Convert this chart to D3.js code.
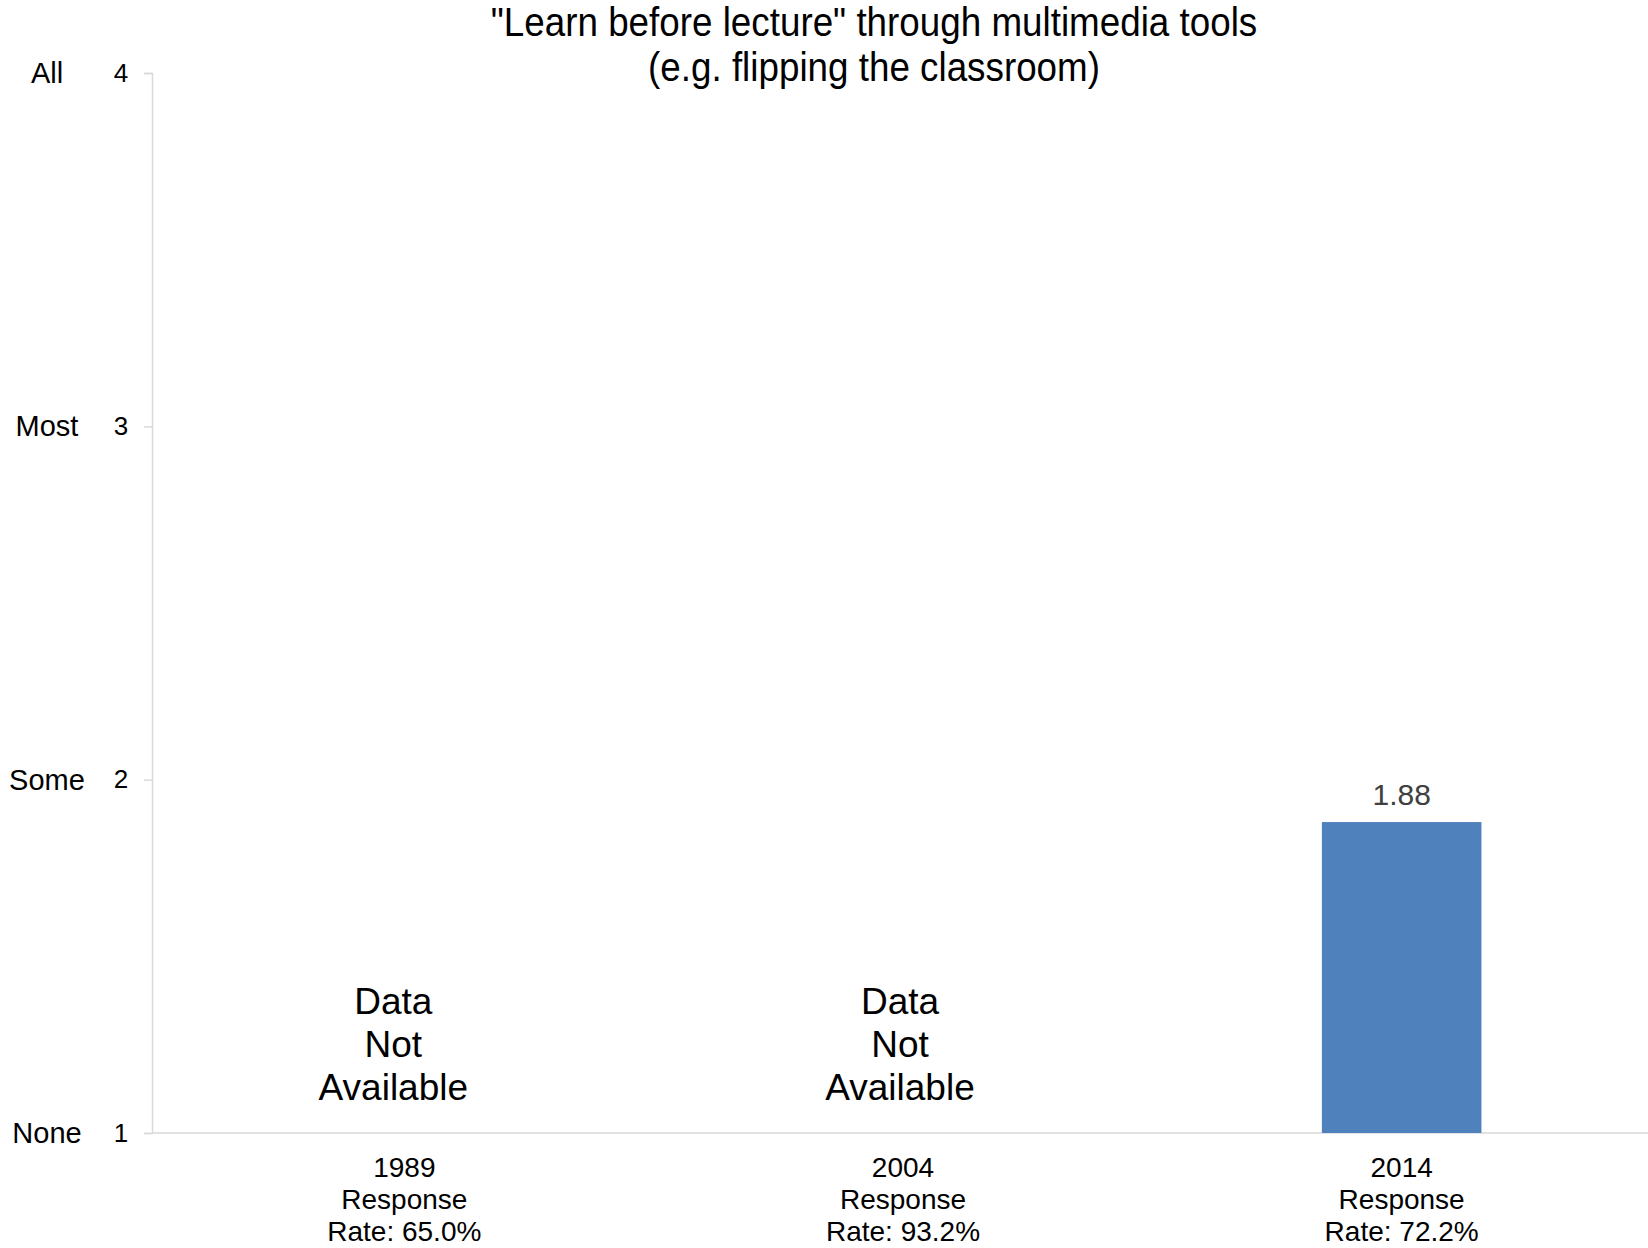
<!DOCTYPE html>
<html>
<head>
<meta charset="utf-8">
<script src="https://cdn.jsdelivr.net/npm/d3@7"></script>
<style>
  body { margin: 0; background: #fff; }
  svg text { font-family: "Liberation Sans", Arial, sans-serif; }
</style>
</head>
<body>
<svg id="chart" width="1648" height="1248"></svg>
<script>
// data
const years = ['1989', '2004', '2014'];
const rates = ['65.0%', '93.2%', '72.2%'];
const values = [null, null, 1.88];
const yTicks = [1, 2, 3, 4];
const yWords = ['None', 'Some', 'Most', 'All'];
const titleLines = ['"Learn before lecture" through multimedia tools', '(e.g. flipping the classroom)'];

const W = 1648, H = 1248;
const m = { top: 73, right: 0, bottom: 115, left: 152 };

const svg = d3.select('#chart');

const x = d3.scaleBand().domain(years).range([m.left + 3, W + 3]).paddingInner(0.68).paddingOuter(0.34);
const y = d3.scaleLinear().domain([1, 4]).range([H - m.bottom, m.top]);

// title (narrow look)
const tx = 874, sx = 0.92;
svg.append('text')
  .attr('transform', `translate(${tx},36) scale(${sx},1)`)
  .attr('text-anchor', 'middle')
  .attr('font-size', 40)
  .selectAll('tspan').data(titleLines).enter()
  .append('tspan')
  .attr('x', 0)
  .attr('dy', (d, i) => i === 0 ? 0 : 45)
  .text(d => d);

// y axis
const yAxis = svg.append('g')
  .attr('transform', `translate(${m.left},0)`)
  .call(d3.axisLeft(y).tickValues(yTicks).tickFormat(d3.format('d')).tickSize(8).tickPadding(14));
yAxis.select('.domain').attr('stroke', '#d9d9d9').attr('stroke-width', 1.5);
yAxis.selectAll('.tick line').attr('stroke', '#d9d9d9').attr('stroke-width', 1.5);
yAxis.selectAll('.tick text').attr('font-size', 26).attr('fill', '#000')
  .attr('text-anchor', 'middle').attr('x', -31);

// word labels
svg.selectAll('.yword').data(yTicks).enter()
  .append('text')
  .attr('class', 'yword')
  .attr('x', 47)
  .attr('y', d => y(d))
  .attr('dy', '0.35em')
  .attr('text-anchor', 'middle')
  .attr('font-size', 29)
  .text((d, i) => yWords[i]);

// x axis
svg.append('line')
  .attr('x1', m.left).attr('x2', W)
  .attr('y1', y(1)).attr('y2', y(1))
  .attr('stroke', '#d9d9d9').attr('stroke-width', 1.5);

// bars
const withData = years.map((yr, i) => ({ yr, v: values[i] })).filter(d => d.v != null);
svg.selectAll('.bar').data(withData).enter()
  .append('rect')
  .attr('x', d => x(d.yr))
  .attr('width', x.bandwidth())
  .attr('y', d => y(d.v))
  .attr('height', d => y(1) - y(d.v))
  .attr('fill', '#4f81bd');

svg.selectAll('.val').data(withData).enter()
  .append('text')
  .attr('x', d => x(d.yr) + x.bandwidth() / 2)
  .attr('y', d => y(d.v) - 17)
  .attr('text-anchor', 'middle')
  .attr('font-size', 30)
  .attr('fill', '#404040')
  .text(d => d.v.toFixed(2));

// "Data Not Available"
const missing = years.map((yr, i) => ({ yr, v: values[i], i })).filter(d => d.v == null);
missing.forEach(d => {
  const cx = x(d.yr) + x.bandwidth() / 2 - (d.i === 0 ? 11 : 3);
  svg.append('text')
    .attr('x', cx).attr('y', 1014)
    .attr('text-anchor', 'middle')
    .attr('font-size', 37)
    .selectAll('tspan').data(['Data', 'Not', 'Available']).enter()
    .append('tspan')
    .attr('x', cx)
    .attr('dy', (t, i) => i === 0 ? 0 : 43)
    .text(t => t);
});

// category labels
years.forEach((yr, i) => {
  const cx = x(yr) + x.bandwidth() / 2;
  svg.append('text')
    .attr('x', cx).attr('y', 1177)
    .attr('text-anchor', 'middle')
    .attr('font-size', 28)
    .selectAll('tspan').data([yr, 'Response', 'Rate: ' + rates[i]]).enter()
    .append('tspan')
    .attr('x', cx)
    .attr('dy', (t, j) => j === 0 ? 0 : 32)
    .text(t => t);
});
</script>
</body>
</html>
